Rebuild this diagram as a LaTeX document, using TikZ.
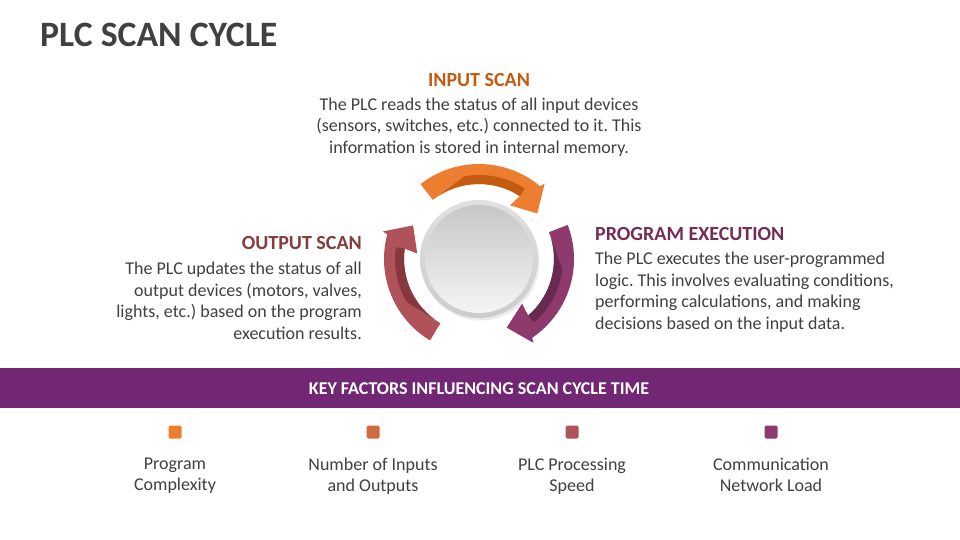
\documentclass[tikz,border=0pt]{standalone}
\usepackage{fontspec}
\setmainfont{Carlito}
\frenchspacing
\usetikzlibrary{calc}
\definecolor{txt}{HTML}{404040}
\definecolor{orgA}{HTML}{ED7D31}
\definecolor{orgD}{HTML}{C55A11}
\definecolor{redA}{HTML}{B0525A}
\definecolor{redD}{HTML}{87383F}
\definecolor{purA}{HTML}{8E3A6C}
\definecolor{purD}{HTML}{692A50}
\definecolor{sqB}{HTML}{D06A42}
\definecolor{hInput}{HTML}{C55A11}
\definecolor{hOutput}{HTML}{843C3C}
\definecolor{hProg}{HTML}{752B58}
\definecolor{band}{HTML}{722774}
\newcommand\cyclearrow[4]{%
  \fill[#3] (#1:75) -- (#1:95) arc[start angle=#1, end angle={#2-12}, radius=95]
    -- ({#2-11}:100) -- (#2:74) -- ({#2-22}:62) -- ({#2-19}:75)
    arc[start angle={#2-19}, end angle=#1, radius=75] -- cycle;
  \fill[#4] ({#1+6}:75) arc[start angle={#1+6}, end angle={#2-19}, radius=75]
    -- ({#2-19}:84) arc[start angle={#2-19}, end angle={#1+28}, radius=84] -- cycle;
}
\tikzset{
  heading/.style={font=\fontsize{20}{24}\selectfont\bfseries, inner sep=0pt},
  body/.style={font=\fontsize{18}{21.8}\selectfont, text=txt, inner sep=0pt},
  factor/.style={font=\fontsize{18}{21}\selectfont, text=txt, inner sep=0pt, align=center, anchor=north},
  marker/.style={minimum size=13pt, inner sep=0pt, rounded corners=1.5pt},
}
\begin{document}
\begin{tikzpicture}[x=1pt,y=-1pt]
\useasboundingbox (0,0) rectangle (960,540);
\fill[white] (0,0) rectangle (960,540);
% title
\node[anchor=base west, inner sep=0pt, text=txt, font=\fontsize{35.7}{42}\selectfont\bfseries] (title) at (40,47) {PLC SCAN CYCLE};
% cycle graphic
\begin{scope}[shift={(479,259)}]
  \cyclearrow{-128}{-38}{orgA}{orgD}
  \cyclearrow{-21}{68}{purA}{purD}
  \cyclearrow{121}{207}{redA}{redD}
  \fill[black!8] (1.5,2.5) circle[radius=59];
  \shade[top color=black!12, bottom color=black!20] (0,0) circle[radius=59];
  \shade[top color=black!22, bottom color=black!4] (0,0) circle[radius=54];
  \node[circle, minimum size=118pt, inner sep=0pt] (hub) at (0,0) {};
\end{scope}
% input scan
\node[heading, text=hInput, anchor=base] (inh) at (479,86.5) {INPUT SCAN};
\node[body, align=center, anchor=north] (inb) at (479,97.5) {The PLC reads the status of all input devices\\(sensors, switches, etc.) connected to it. This\\information is stored in internal memory.};
% output scan
\node[heading, text=hOutput, anchor=base east] (outh) at (362,249) {OUTPUT SCAN};
\node[body, align=right, anchor=north east] (outb) at (362,261.5) {The PLC updates the status of all\\output devices (motors, valves,\\lights, etc.) based on the program\\execution results.};
% program execution
\node[heading, text=hProg, anchor=base west] (progh) at (595,240.5) {PROGRAM EXECUTION};
\node[body, align=left, anchor=north west] (progb) at (595,251.5) {The PLC executes the user-programmed\\logic. This involves evaluating conditions,\\performing calculations, and making\\decisions based on the input data.};
% band
\fill[band] (0,368) rectangle (960,408);
\node[text=white, inner sep=0pt, font=\fontsize{18}{21}\selectfont\bfseries] (bandt) at (479,388.5) {KEY FACTORS INFLUENCING SCAN CYCLE TIME};
% factors
\node[marker, fill=orgA] (m1) at (175,432) {};
\node[marker, fill=sqB] (m2) at (373,432) {};
\node[marker, fill=redA] (m3) at (572,432) {};
\node[marker, fill=purA] (m4) at (771,432) {};
\node[factor] (f1) at (175,457.5) {Program\\Complexity};
\node[factor] (f2) at (373,457.5) {Number of Inputs\\and Outputs};
\node[factor] (f3) at (572,457.5) {PLC Processing\\Speed};
\node[factor] (f4) at (771,457.5) {Communication\\Network Load};
\end{tikzpicture}
\end{document}
